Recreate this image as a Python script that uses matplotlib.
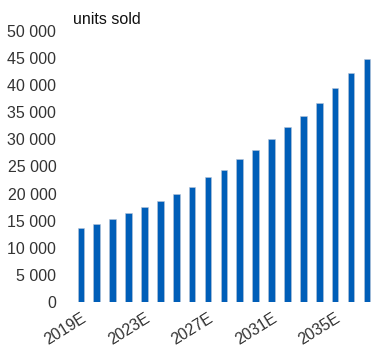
import matplotlib
matplotlib.use("Agg")
import matplotlib.pyplot as plt
from matplotlib.ticker import FuncFormatter
from matplotlib.transforms import ScaledTranslation

years = [f"{y}E" for y in range(2019, 2038)]
units = [13700, 14400, 15400, 16400, 17500, 18700, 19900, 21300, 23000, 24400,
         26300, 28000, 30100, 32300, 34300, 36700, 39400, 42200, 44900]
yticks = list(range(0, 50001, 5000))

plt.rcParams['font.family'] = ['Liberation Sans', 'DejaVu Sans']

fig = plt.figure(figsize=(3.74, 3.49), dpi=100)
ax = fig.add_axes([73/374, 1-302/349, 1-73/374, (302-31)/349])
x = list(range(len(years)))
ax.bar(x, units, width=0.42, color='#005EB8', edgecolor='#b8c4d6', linewidth=0.4)
ax.set_xlim(-0.5, 18.45)
ax.set_ylim(0, 50000)
ax.set_yticks(yticks)
ax.yaxis.set_major_formatter(FuncFormatter(lambda v, p: f"{int(v):,}".replace(",", " ")))
ax.set_xticks(x[::4])
ax.set_xticklabels(years[::4], rotation=32, ha='right', rotation_mode='anchor')
offset = ScaledTranslation(-4/100, 0, fig.dpi_scale_trans)
for lbl in ax.get_xticklabels():
    lbl.set_transform(lbl.get_transform() + offset)
for s in ax.spines.values():
    s.set_visible(False)
ax.tick_params(axis='both', length=0, labelsize=11.5, colors='#333333')
ax.tick_params(axis='y', pad=12)
ax.tick_params(axis='x', pad=6)
fig.text(73/374, 1-19/349, "units sold", fontsize=11.5, color='#111111', va='center', ha='left')
fig.savefig("out.png", dpi=100)
